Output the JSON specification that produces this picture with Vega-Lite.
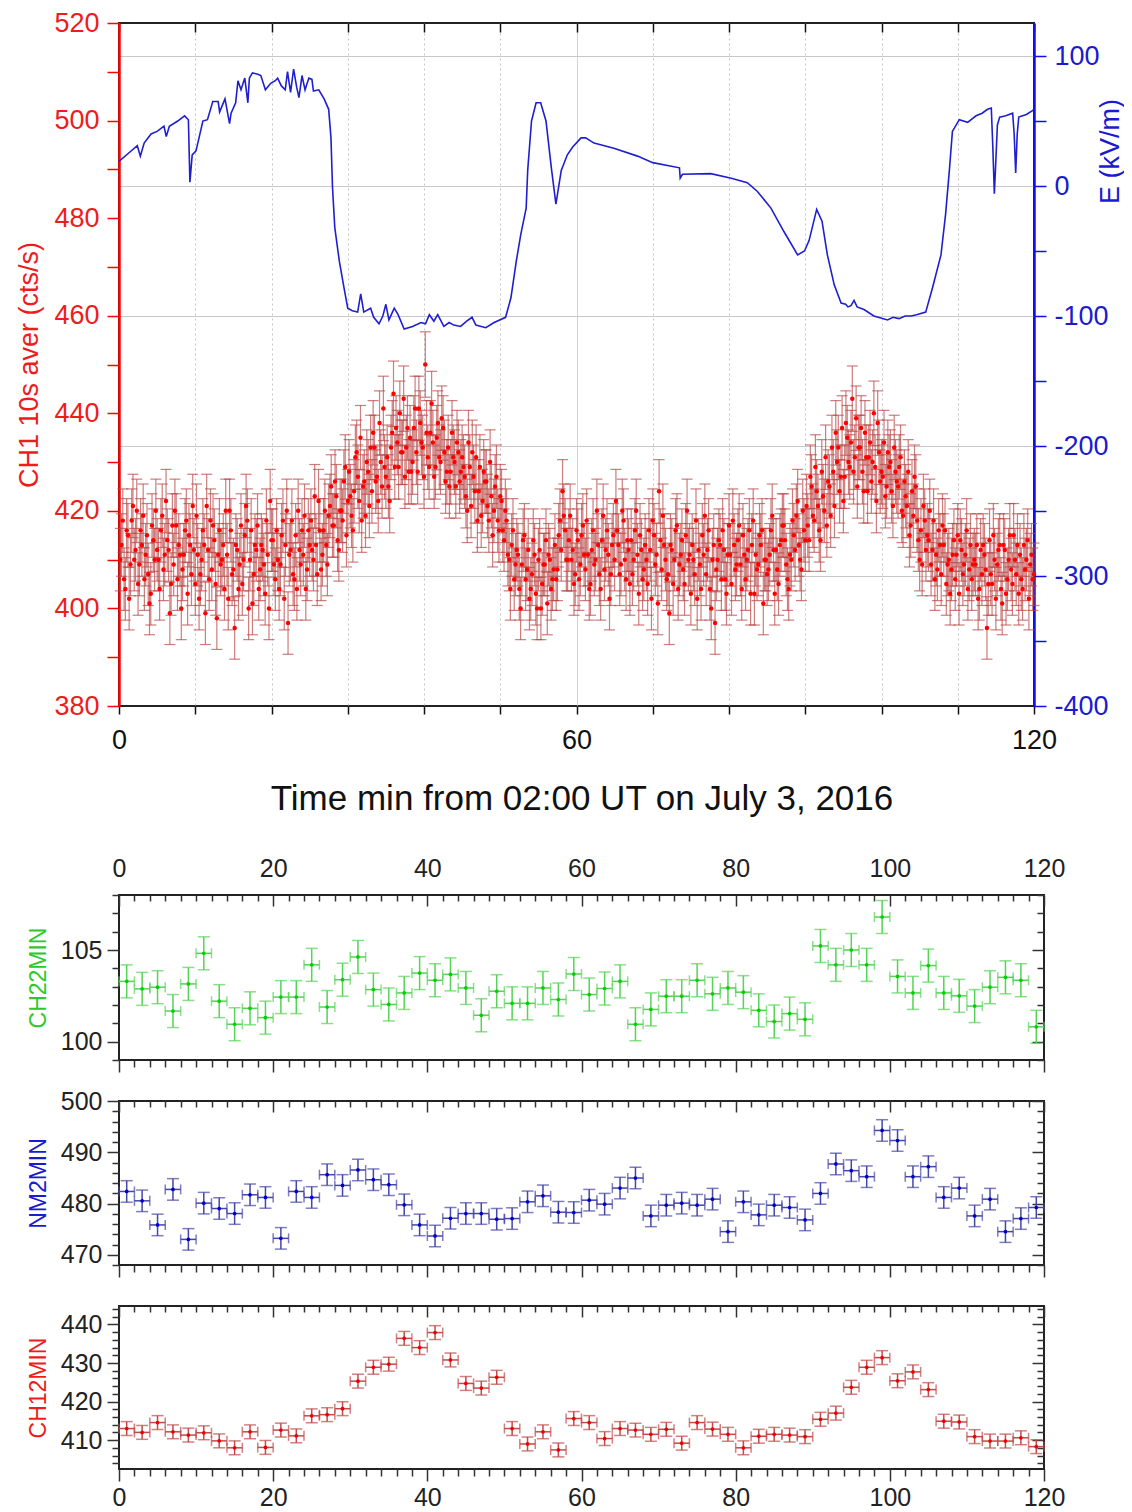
{
  "$schema": "https://vega.github.io/schema/vega-lite/v6.json",
  "background": "white",
  "padding": {"left": 14, "top": 8, "right": 0, "bottom": 0},
  "spacing": 26,
  "config": {
    "font": "Liberation Sans",
    "view": {"stroke": "#222", "strokeWidth": 2},
    "axis": {"labelFont": "Liberation Sans", "titleFont": "Liberation Sans", "titleFontWeight": "normal", "labelFlush": false, "labelOverlap": false, "grid": false, "domain": false}
  },
  "datasets": {
    "ch1": [
      {"t":0.17,"c":410,"e":6.4},{"t":0.5,"c":418,"e":6.5},{"t":0.83,"c":404,"e":6.4},
      {"t":1.17,"c":415,"e":6.5},{"t":1.5,"c":409,"e":6.4},{"t":1.83,"c":421,"e":6.5},
      {"t":2.17,"c":412,"e":6.4},{"t":2.5,"c":405,"e":6.4},{"t":2.83,"c":416,"e":6.5},
      {"t":3.17,"c":419,"e":6.5},{"t":3.5,"c":411,"e":6.4},{"t":3.83,"c":407,"e":6.4},
      {"t":4.17,"c":403,"e":6.4},{"t":4.5,"c":414,"e":6.4},{"t":4.83,"c":420,"e":6.5},
      {"t":5.17,"c":410,"e":6.4},{"t":5.5,"c":416,"e":6.5},{"t":5.83,"c":408,"e":6.4},
      {"t":6.17,"c":422,"e":6.5},{"t":6.5,"c":412,"e":6.4},{"t":6.83,"c":405,"e":6.4},
      {"t":7.17,"c":409,"e":6.4},{"t":7.5,"c":417,"e":6.5},{"t":7.83,"c":413,"e":6.4},
      {"t":8.17,"c":400,"e":6.4},{"t":8.5,"c":411,"e":6.4},{"t":8.83,"c":418,"e":6.5},
      {"t":9.17,"c":415,"e":6.5},{"t":9.5,"c":407,"e":6.4},{"t":9.83,"c":412,"e":6.4},
      {"t":10.17,"c":419,"e":6.5},{"t":10.5,"c":402,"e":6.4},{"t":10.83,"c":410,"e":6.4},
      {"t":11.17,"c":413,"e":6.4},{"t":11.5,"c":421,"e":6.5},{"t":11.83,"c":406,"e":6.4},
      {"t":12.17,"c":408,"e":6.4},{"t":12.5,"c":414,"e":6.4},{"t":12.83,"c":398,"e":6.4},
      {"t":13.17,"c":416,"e":6.5},{"t":13.5,"c":410,"e":6.4},{"t":13.83,"c":404,"e":6.4},
      {"t":14.17,"c":411,"e":6.4},{"t":14.5,"c":420,"e":6.5},{"t":14.83,"c":407,"e":6.4},
      {"t":15.17,"c":396,"e":6.4},{"t":15.5,"c":412,"e":6.4},{"t":15.83,"c":409,"e":6.4},
      {"t":16.17,"c":405,"e":6.4},{"t":16.5,"c":415,"e":6.5},{"t":16.83,"c":418,"e":6.5},
      {"t":17.17,"c":410,"e":6.4},{"t":17.5,"c":401,"e":6.4},{"t":17.83,"c":413,"e":6.4},
      {"t":18.17,"c":417,"e":6.5},{"t":18.5,"c":408,"e":6.4},{"t":18.83,"c":412,"e":6.4},
      {"t":19.17,"c":403,"e":6.4},{"t":19.5,"c":411,"e":6.4},{"t":19.83,"c":422,"e":6.5},
      {"t":20.17,"c":414,"e":6.4},{"t":20.5,"c":406,"e":6.4},{"t":20.83,"c":410,"e":6.4},
      {"t":21.17,"c":409,"e":6.4},{"t":21.5,"c":418,"e":6.5},{"t":21.83,"c":413,"e":6.4},
      {"t":22.17,"c":397,"e":6.4},{"t":22.5,"c":412,"e":6.4},{"t":22.83,"c":407,"e":6.4},
      {"t":23.17,"c":415,"e":6.5},{"t":23.5,"c":420,"e":6.5},{"t":23.83,"c":409,"e":6.4},
      {"t":24.17,"c":411,"e":6.4},{"t":24.5,"c":404,"e":6.4},{"t":24.83,"c":416,"e":6.5},
      {"t":25.17,"c":418,"e":6.5},{"t":25.5,"c":410,"e":6.4},{"t":25.83,"c":413,"e":6.4},
      {"t":26.17,"c":422,"e":6.5},{"t":26.5,"c":408,"e":6.4},{"t":26.83,"c":416,"e":6.5},
      {"t":27.17,"c":413,"e":6.4},{"t":27.5,"c":419,"e":6.5},{"t":27.83,"c":425,"e":6.5},
      {"t":28.17,"c":417,"e":6.5},{"t":28.5,"c":423,"e":6.5},{"t":28.83,"c":412,"e":6.4},
      {"t":29.17,"c":420,"e":6.5},{"t":29.5,"c":426,"e":6.5},{"t":29.83,"c":415,"e":6.5},
      {"t":30.17,"c":428,"e":6.6},{"t":30.5,"c":419,"e":6.5},{"t":30.83,"c":424,"e":6.5},
      {"t":31.17,"c":432,"e":6.6},{"t":31.5,"c":422,"e":6.5},{"t":31.83,"c":418,"e":6.5},
      {"t":32.17,"c":426,"e":6.5},{"t":32.5,"c":430,"e":6.6},{"t":32.83,"c":421,"e":6.5},
      {"t":33.17,"c":424,"e":6.5},{"t":33.5,"c":433,"e":6.6},{"t":33.83,"c":427,"e":6.5},
      {"t":34.17,"c":438,"e":6.6},{"t":34.5,"c":425,"e":6.5},{"t":34.83,"c":429,"e":6.6},
      {"t":35.17,"c":431,"e":6.6},{"t":35.5,"c":422,"e":6.5},{"t":35.83,"c":436,"e":6.6},
      {"t":36.17,"c":429,"e":6.6},{"t":36.5,"c":434,"e":6.6},{"t":36.83,"c":440,"e":6.6},
      {"t":37.17,"c":432,"e":6.6},{"t":37.5,"c":427,"e":6.5},{"t":37.83,"c":437,"e":6.6},
      {"t":38.17,"c":435,"e":6.6},{"t":38.5,"c":430,"e":6.6},{"t":38.83,"c":441,"e":6.6},
      {"t":39.17,"c":428,"e":6.6},{"t":39.5,"c":438,"e":6.6},{"t":39.83,"c":433,"e":6.6},
      {"t":40.17,"c":450,"e":6.7},{"t":40.5,"c":431,"e":6.6},{"t":40.83,"c":436,"e":6.6},
      {"t":41.17,"c":434,"e":6.6},{"t":41.5,"c":429,"e":6.6},{"t":41.83,"c":438,"e":6.6},
      {"t":42.17,"c":430,"e":6.6},{"t":42.5,"c":437,"e":6.6},{"t":42.83,"c":426,"e":6.5},
      {"t":43.17,"c":433,"e":6.6},{"t":43.5,"c":428,"e":6.6},{"t":43.83,"c":431,"e":6.6},
      {"t":44.17,"c":425,"e":6.5},{"t":44.5,"c":432,"e":6.6},{"t":44.83,"c":428,"e":6.6},
      {"t":45.17,"c":429,"e":6.6},{"t":45.5,"c":423,"e":6.5},{"t":45.83,"c":434,"e":6.6},
      {"t":46.17,"c":421,"e":6.5},{"t":46.5,"c":427,"e":6.5},{"t":46.83,"c":431,"e":6.6},
      {"t":47.17,"c":424,"e":6.5},{"t":47.5,"c":419,"e":6.5},{"t":47.83,"c":428,"e":6.6},
      {"t":48.17,"c":426,"e":6.5},{"t":48.5,"c":418,"e":6.5},{"t":48.83,"c":423,"e":6.5},
      {"t":49.17,"c":420,"e":6.5},{"t":49.5,"c":427,"e":6.5},{"t":49.83,"c":416,"e":6.5},
      {"t":50.17,"c":422,"e":6.5},{"t":50.5,"c":414,"e":6.4},{"t":50.83,"c":418,"e":6.5},
      {"t":51.17,"c":410,"e":6.4},{"t":51.5,"c":413,"e":6.4},{"t":51.83,"c":406,"e":6.4},
      {"t":52.17,"c":412,"e":6.4},{"t":52.5,"c":404,"e":6.4},{"t":52.83,"c":409,"e":6.4},
      {"t":53.17,"c":415,"e":6.5},{"t":53.5,"c":408,"e":6.4},{"t":53.83,"c":402,"e":6.4},
      {"t":54.17,"c":407,"e":6.4},{"t":54.5,"c":411,"e":6.4},{"t":54.83,"c":400,"e":6.4},
      {"t":55.17,"c":412,"e":6.4},{"t":55.5,"c":405,"e":6.4},{"t":55.83,"c":409,"e":6.4},
      {"t":56.17,"c":401,"e":6.4},{"t":56.5,"c":410,"e":6.4},{"t":56.83,"c":406,"e":6.4},
      {"t":57.17,"c":413,"e":6.4},{"t":57.5,"c":408,"e":6.4},{"t":57.83,"c":418,"e":6.5},
      {"t":58.17,"c":424,"e":6.5},{"t":58.5,"c":416,"e":6.5},{"t":58.83,"c":410,"e":6.4},
      {"t":59.17,"c":419,"e":6.5},{"t":59.5,"c":412,"e":6.4},{"t":59.83,"c":407,"e":6.4},
      {"t":60.17,"c":414,"e":6.4},{"t":60.5,"c":409,"e":6.4},{"t":60.83,"c":417,"e":6.5},
      {"t":61.17,"c":408,"e":6.4},{"t":61.5,"c":411,"e":6.4},{"t":61.83,"c":405,"e":6.4},
      {"t":62.17,"c":416,"e":6.5},{"t":62.5,"c":410,"e":6.4},{"t":62.83,"c":413,"e":6.4},
      {"t":63.17,"c":404,"e":6.4},{"t":63.5,"c":419,"e":6.5},{"t":63.83,"c":412,"e":6.4},
      {"t":64.17,"c":411,"e":6.4},{"t":64.5,"c":407,"e":6.4},{"t":64.83,"c":415,"e":6.5},
      {"t":65.17,"c":422,"e":6.5},{"t":65.5,"c":413,"e":6.4},{"t":65.83,"c":409,"e":6.4},
      {"t":66.17,"c":418,"e":6.5},{"t":66.5,"c":406,"e":6.4},{"t":66.83,"c":412,"e":6.4},
      {"t":67.17,"c":414,"e":6.4},{"t":67.5,"c":410,"e":6.4},{"t":67.83,"c":420,"e":6.5},
      {"t":68.17,"c":403,"e":6.4},{"t":68.5,"c":412,"e":6.4},{"t":68.83,"c":408,"e":6.4},
      {"t":69.17,"c":410,"e":6.4},{"t":69.5,"c":416,"e":6.5},{"t":69.83,"c":402,"e":6.4},
      {"t":70.17,"c":415,"e":6.5},{"t":70.5,"c":411,"e":6.4},{"t":70.83,"c":424,"e":6.5},
      {"t":71.17,"c":408,"e":6.4},{"t":71.5,"c":413,"e":6.4},{"t":71.83,"c":406,"e":6.4},
      {"t":72.17,"c":399,"e":6.4},{"t":72.5,"c":412,"e":6.4},{"t":72.83,"c":410,"e":6.4},
      {"t":73.17,"c":417,"e":6.5},{"t":73.5,"c":409,"e":6.4},{"t":73.83,"c":414,"e":6.4},
      {"t":74.17,"c":405,"e":6.4},{"t":74.5,"c":420,"e":6.5},{"t":74.83,"c":411,"e":6.4},
      {"t":75.17,"c":413,"e":6.4},{"t":75.5,"c":407,"e":6.4},{"t":75.83,"c":402,"e":6.4},
      {"t":76.17,"c":409,"e":6.4},{"t":76.5,"c":415,"e":6.5},{"t":76.83,"c":419,"e":6.5},
      {"t":77.17,"c":412,"e":6.4},{"t":77.5,"c":404,"e":6.4},{"t":77.83,"c":410,"e":6.4},
      {"t":78.17,"c":397,"e":6.4},{"t":78.5,"c":410,"e":6.4},{"t":78.83,"c":413,"e":6.4},
      {"t":79.17,"c":416,"e":6.5},{"t":79.5,"c":406,"e":6.4},{"t":79.83,"c":411,"e":6.4},
      {"t":80.17,"c":411,"e":6.4},{"t":80.5,"c":418,"e":6.5},{"t":80.83,"c":408,"e":6.4},
      {"t":81.17,"c":414,"e":6.4},{"t":81.5,"c":409,"e":6.4},{"t":81.83,"c":415,"e":6.5},
      {"t":82.17,"c":406,"e":6.4},{"t":82.5,"c":412,"e":6.4},{"t":82.83,"c":403,"e":6.4},
      {"t":83.17,"c":418,"e":6.5},{"t":83.5,"c":411,"e":6.4},{"t":83.83,"c":409,"e":6.4},
      {"t":84.17,"c":413,"e":6.4},{"t":84.5,"c":401,"e":6.4},{"t":84.83,"c":410,"e":6.4},
      {"t":85.17,"c":408,"e":6.4},{"t":85.5,"c":416,"e":6.5},{"t":85.83,"c":412,"e":6.4},
      {"t":86.17,"c":412,"e":6.4},{"t":86.5,"c":405,"e":6.4},{"t":86.83,"c":414,"e":6.4},
      {"t":87.17,"c":417,"e":6.5},{"t":87.5,"c":409,"e":6.4},{"t":87.83,"c":404,"e":6.4},
      {"t":88.17,"c":410,"e":6.4},{"t":88.5,"c":415,"e":6.5},{"t":88.83,"c":419,"e":6.5},
      {"t":89.17,"c":413,"e":6.4},{"t":89.5,"c":408,"e":6.4},{"t":89.83,"c":416,"e":6.5},
      {"t":90.17,"c":421,"e":6.5},{"t":90.5,"c":414,"e":6.4},{"t":90.83,"c":425,"e":6.5},
      {"t":91.17,"c":418,"e":6.5},{"t":91.5,"c":424,"e":6.5},{"t":91.83,"c":416,"e":6.5},
      {"t":92.17,"c":428,"e":6.6},{"t":92.5,"c":420,"e":6.5},{"t":92.83,"c":417,"e":6.5},
      {"t":93.17,"c":425,"e":6.5},{"t":93.5,"c":433,"e":6.6},{"t":93.83,"c":421,"e":6.5},
      {"t":94.17,"c":430,"e":6.6},{"t":94.5,"c":424,"e":6.5},{"t":94.83,"c":437,"e":6.6},
      {"t":95.17,"c":427,"e":6.5},{"t":95.5,"c":435,"e":6.6},{"t":95.83,"c":429,"e":6.6},
      {"t":96.17,"c":443,"e":6.7},{"t":96.5,"c":431,"e":6.6},{"t":96.83,"c":425,"e":6.5},
      {"t":97.17,"c":433,"e":6.6},{"t":97.5,"c":428,"e":6.6},{"t":97.83,"c":436,"e":6.6},
      {"t":98.17,"c":424,"e":6.5},{"t":98.5,"c":434,"e":6.6},{"t":98.83,"c":430,"e":6.6},
      {"t":99.17,"c":429,"e":6.6},{"t":99.5,"c":438,"e":6.6},{"t":99.83,"c":426,"e":6.5},
      {"t":100.17,"c":427,"e":6.5},{"t":100.5,"c":423,"e":6.5},{"t":100.83,"c":432,"e":6.6},
      {"t":101.17,"c":430,"e":6.6},{"t":101.5,"c":421,"e":6.5},{"t":101.83,"c":428,"e":6.6},
      {"t":102.17,"c":425,"e":6.5},{"t":102.5,"c":431,"e":6.6},{"t":102.83,"c":419,"e":6.5},
      {"t":103.17,"c":423,"e":6.5},{"t":103.5,"c":428,"e":6.6},{"t":103.83,"c":417,"e":6.5},
      {"t":104.17,"c":419,"e":6.5},{"t":104.5,"c":425,"e":6.5},{"t":104.83,"c":414,"e":6.4},
      {"t":105.17,"c":416,"e":6.5},{"t":105.5,"c":421,"e":6.5},{"t":105.83,"c":412,"e":6.4},
      {"t":106.17,"c":414,"e":6.4},{"t":106.5,"c":409,"e":6.4},{"t":106.83,"c":418,"e":6.5},
      {"t":107.17,"c":411,"e":6.4},{"t":107.5,"c":416,"e":6.5},{"t":107.83,"c":407,"e":6.4},
      {"t":108.17,"c":413,"e":6.4},{"t":108.5,"c":405,"e":6.4},{"t":108.83,"c":410,"e":6.4},
      {"t":109.17,"c":408,"e":6.4},{"t":109.5,"c":414,"e":6.4},{"t":109.83,"c":411,"e":6.4},
      {"t":110.17,"c":403,"e":6.4},{"t":110.5,"c":412,"e":6.4},{"t":110.83,"c":409,"e":6.4},
      {"t":111.17,"c":416,"e":6.5},{"t":111.5,"c":408,"e":6.4},{"t":111.83,"c":406,"e":6.4},
      {"t":112.17,"c":410,"e":6.4},{"t":112.5,"c":413,"e":6.4},{"t":112.83,"c":404,"e":6.4},
      {"t":113.17,"c":407,"e":6.4},{"t":113.5,"c":411,"e":6.4},{"t":113.83,"c":396,"e":6.4},
      {"t":114.17,"c":414,"e":6.4},{"t":114.5,"c":405,"e":6.4},{"t":114.83,"c":410,"e":6.4},
      {"t":115.17,"c":409,"e":6.4},{"t":115.5,"c":413,"e":6.4},{"t":115.83,"c":401,"e":6.4},
      {"t":116.17,"c":412,"e":6.4},{"t":116.5,"c":406,"e":6.4},{"t":116.83,"c":415,"e":6.5},
      {"t":117.17,"c":405,"e":6.4},{"t":117.5,"c":410,"e":6.4},{"t":117.83,"c":413,"e":6.4},
      {"t":118.17,"c":411,"e":6.4},{"t":118.5,"c":404,"e":6.4},{"t":118.83,"c":408,"e":6.4},
      {"t":119.17,"c":414,"e":6.4},{"t":119.5,"c":409,"e":6.4},{"t":119.83,"c":406,"e":6.4},
      {"t":0.33,"c":413,"e":6.4},{"t":0.67,"c":406,"e":6.4},{"t":1.0,"c":416,"e":6.5},
      {"t":1.33,"c":402,"e":6.4},{"t":1.67,"c":418,"e":6.5},{"t":2.0,"c":410,"e":6.4},
      {"t":2.33,"c":420,"e":6.5},{"t":2.67,"c":409,"e":6.4},{"t":3.0,"c":413,"e":6.4},
      {"t":3.33,"c":406,"e":6.4},{"t":3.67,"c":415,"e":6.5},{"t":4.0,"c":401,"e":6.4},
      {"t":4.33,"c":417,"e":6.5},{"t":4.67,"c":410,"e":6.4},{"t":5.0,"c":412,"e":6.4},
      {"t":5.33,"c":404,"e":6.4},{"t":5.67,"c":419,"e":6.5},{"t":6.0,"c":411,"e":6.4},
      {"t":6.33,"c":414,"e":6.4},{"t":6.67,"c":399,"e":6.4},{"t":7.0,"c":417,"e":6.5},
      {"t":7.33,"c":420,"e":6.5},{"t":7.67,"c":406,"e":6.4},{"t":8.0,"c":411,"e":6.4},
      {"t":8.33,"c":408,"e":6.4},{"t":8.67,"c":416,"e":6.5},{"t":9.0,"c":403,"e":6.4},
      {"t":9.33,"c":413,"e":6.4},{"t":9.67,"c":421,"e":6.5},{"t":10.0,"c":405,"e":6.4},
      {"t":10.33,"c":411,"e":6.4},{"t":10.67,"c":407,"e":6.4},{"t":11.0,"c":416,"e":6.5},
      {"t":11.33,"c":399,"e":6.4},{"t":11.67,"c":412,"e":6.4},{"t":12.0,"c":418,"e":6.5},
      {"t":12.33,"c":417,"e":6.5},{"t":12.67,"c":405,"e":6.4},{"t":13.0,"c":411,"e":6.4},
      {"t":13.33,"c":409,"e":6.4},{"t":13.67,"c":413,"e":6.4},{"t":14.0,"c":420,"e":6.5},
      {"t":14.33,"c":402,"e":6.4},{"t":14.67,"c":416,"e":6.5},{"t":15.0,"c":408,"e":6.4},
      {"t":15.33,"c":413,"e":6.4},{"t":15.67,"c":404,"e":6.4},{"t":16.0,"c":417,"e":6.5},
      {"t":16.33,"c":410,"e":6.4},{"t":16.67,"c":421,"e":6.5},{"t":17.0,"c":400,"e":6.4},
      {"t":17.33,"c":416,"e":6.5},{"t":17.67,"c":407,"e":6.4},{"t":18.0,"c":412,"e":6.4},
      {"t":18.33,"c":404,"e":6.4},{"t":18.67,"c":413,"e":6.4},{"t":19.0,"c":409,"e":6.4},
      {"t":19.33,"c":418,"e":6.5},{"t":19.67,"c":400,"e":6.4},{"t":20.0,"c":414,"e":6.4},
      {"t":20.33,"c":409,"e":6.4},{"t":20.67,"c":416,"e":6.5},{"t":21.0,"c":404,"e":6.4},
      {"t":21.33,"c":415,"e":6.5},{"t":21.67,"c":402,"e":6.4},{"t":22.0,"c":420,"e":6.5},
      {"t":22.33,"c":411,"e":6.4},{"t":22.67,"c":418,"e":6.5},{"t":23.0,"c":406,"e":6.4},
      {"t":23.33,"c":404,"e":6.4},{"t":23.67,"c":412,"e":6.4},{"t":24.0,"c":416,"e":6.5},
      {"t":24.33,"c":419,"e":6.5},{"t":24.67,"c":408,"e":6.4},{"t":25.0,"c":413,"e":6.4},
      {"t":25.33,"c":412,"e":6.4},{"t":25.67,"c":423,"e":6.5},{"t":26.0,"c":407,"e":6.4},
      {"t":26.33,"c":416,"e":6.5},{"t":26.67,"c":411,"e":6.4},{"t":27.0,"c":420,"e":6.5},
      {"t":27.33,"c":409,"e":6.4},{"t":27.67,"c":421,"e":6.5},{"t":28.0,"c":417,"e":6.5},
      {"t":28.33,"c":426,"e":6.5},{"t":28.67,"c":414,"e":6.4},{"t":29.0,"c":420,"e":6.5},
      {"t":29.33,"c":418,"e":6.5},{"t":29.67,"c":429,"e":6.6},{"t":30.0,"c":422,"e":6.5},
      {"t":30.33,"c":423,"e":6.5},{"t":30.67,"c":416,"e":6.5},{"t":31.0,"c":431,"e":6.6},
      {"t":31.33,"c":427,"e":6.5},{"t":31.67,"c":435,"e":6.6},{"t":32.0,"c":425,"e":6.5},
      {"t":32.33,"c":419,"e":6.5},{"t":32.67,"c":428,"e":6.6},{"t":33.0,"c":433,"e":6.6},
      {"t":33.33,"c":436,"e":6.6},{"t":33.67,"c":426,"e":6.5},{"t":34.0,"c":422,"e":6.5},
      {"t":34.33,"c":430,"e":6.6},{"t":34.67,"c":441,"e":6.6},{"t":35.0,"c":427,"e":6.5},
      {"t":35.33,"c":425,"e":6.5},{"t":35.67,"c":433,"e":6.6},{"t":36.0,"c":444,"e":6.7},
      {"t":36.33,"c":437,"e":6.6},{"t":36.67,"c":429,"e":6.6},{"t":37.0,"c":432,"e":6.6},
      {"t":37.33,"c":443,"e":6.7},{"t":37.67,"c":433,"e":6.6},{"t":38.0,"c":428,"e":6.6},
      {"t":38.33,"c":428,"e":6.6},{"t":38.67,"c":437,"e":6.6},{"t":39.0,"c":432,"e":6.6},
      {"t":39.33,"c":441,"e":6.6},{"t":39.67,"c":434,"e":6.6},{"t":40.0,"c":427,"e":6.5},
      {"t":40.33,"c":436,"e":6.6},{"t":40.67,"c":429,"e":6.6},{"t":41.0,"c":442,"e":6.6},
      {"t":41.33,"c":427,"e":6.5},{"t":41.67,"c":435,"e":6.6},{"t":42.0,"c":431,"e":6.6},
      {"t":42.33,"c":439,"e":6.6},{"t":42.67,"c":432,"e":6.6},{"t":43.0,"c":428,"e":6.6},
      {"t":43.33,"c":425,"e":6.5},{"t":43.67,"c":436,"e":6.6},{"t":44.0,"c":430,"e":6.6},
      {"t":44.33,"c":434,"e":6.6},{"t":44.67,"c":426,"e":6.5},{"t":45.0,"c":431,"e":6.6},
      {"t":45.33,"c":427,"e":6.5},{"t":45.67,"c":420,"e":6.5},{"t":46.0,"c":429,"e":6.6},
      {"t":46.33,"c":432,"e":6.6},{"t":46.67,"c":424,"e":6.5},{"t":47.0,"c":418,"e":6.5},
      {"t":47.33,"c":429,"e":6.6},{"t":47.67,"c":422,"e":6.5},{"t":48.0,"c":426,"e":6.5},
      {"t":48.33,"c":421,"e":6.5},{"t":48.67,"c":430,"e":6.6},{"t":49.0,"c":415,"e":6.5},
      {"t":49.33,"c":425,"e":6.5},{"t":49.67,"c":418,"e":6.5},{"t":50.0,"c":423,"e":6.5},
      {"t":50.33,"c":416,"e":6.5},{"t":50.67,"c":420,"e":6.5},{"t":51.0,"c":411,"e":6.4},
      {"t":51.33,"c":404,"e":6.4},{"t":51.67,"c":416,"e":6.5},{"t":52.0,"c":409,"e":6.4},
      {"t":52.33,"c":411,"e":6.4},{"t":52.67,"c":400,"e":6.4},{"t":53.0,"c":414,"e":6.4},
      {"t":53.33,"c":406,"e":6.4},{"t":53.67,"c":412,"e":6.4},{"t":54.0,"c":404,"e":6.4},
      {"t":54.33,"c":414,"e":6.4},{"t":54.67,"c":403,"e":6.4},{"t":55.0,"c":410,"e":6.4},
      {"t":55.33,"c":400,"e":6.4},{"t":55.67,"c":409,"e":6.4},{"t":56.0,"c":414,"e":6.4},
      {"t":56.33,"c":411,"e":6.4},{"t":56.67,"c":404,"e":6.4},{"t":57.0,"c":408,"e":6.4},
      {"t":57.33,"c":406,"e":6.4},{"t":57.67,"c":415,"e":6.5},{"t":58.0,"c":412,"e":6.4},
      {"t":58.33,"c":419,"e":6.5},{"t":58.67,"c":410,"e":6.4},{"t":59.0,"c":414,"e":6.4},
      {"t":59.33,"c":410,"e":6.4},{"t":59.67,"c":405,"e":6.4},{"t":60.0,"c":416,"e":6.5},
      {"t":60.33,"c":406,"e":6.4},{"t":60.67,"c":415,"e":6.5},{"t":61.0,"c":411,"e":6.4},
      {"t":61.33,"c":418,"e":6.5},{"t":61.67,"c":404,"e":6.4},{"t":62.0,"c":412,"e":6.4},
      {"t":62.33,"c":409,"e":6.4},{"t":62.67,"c":420,"e":6.5},{"t":63.0,"c":407,"e":6.4},
      {"t":63.33,"c":414,"e":6.4},{"t":63.67,"c":408,"e":6.4},{"t":64.0,"c":416,"e":6.5},
      {"t":64.33,"c":402,"e":6.4},{"t":64.67,"c":413,"e":6.4},{"t":65.0,"c":410,"e":6.4},
      {"t":65.33,"c":416,"e":6.5},{"t":65.67,"c":407,"e":6.4},{"t":66.0,"c":420,"e":6.5},
      {"t":66.33,"c":410,"e":6.4},{"t":66.67,"c":414,"e":6.4},{"t":67.0,"c":405,"e":6.4},
      {"t":67.33,"c":407,"e":6.4},{"t":67.67,"c":416,"e":6.5},{"t":68.0,"c":411,"e":6.4},
      {"t":68.33,"c":415,"e":6.5},{"t":68.67,"c":406,"e":6.4},{"t":69.0,"c":413,"e":6.4},
      {"t":69.33,"c":405,"e":6.4},{"t":69.67,"c":412,"e":6.4},{"t":70.0,"c":418,"e":6.5},
      {"t":70.33,"c":409,"e":6.4},{"t":70.67,"c":401,"e":6.4},{"t":71.0,"c":414,"e":6.4},
      {"t":71.33,"c":419,"e":6.5},{"t":71.67,"c":410,"e":6.4},{"t":72.0,"c":407,"e":6.4},
      {"t":72.33,"c":413,"e":6.4},{"t":72.67,"c":405,"e":6.4},{"t":73.0,"c":416,"e":6.5},
      {"t":73.33,"c":404,"e":6.4},{"t":73.67,"c":411,"e":6.4},{"t":74.0,"c":408,"e":6.4},
      {"t":74.33,"c":415,"e":6.5},{"t":74.67,"c":410,"e":6.4},{"t":75.0,"c":403,"e":6.4},
      {"t":75.33,"c":410,"e":6.4},{"t":75.67,"c":418,"e":6.5},{"t":76.0,"c":412,"e":6.4},
      {"t":76.33,"c":404,"e":6.4},{"t":76.67,"c":411,"e":6.4},{"t":77.0,"c":407,"e":6.4},
      {"t":77.33,"c":416,"e":6.5},{"t":77.67,"c":400,"e":6.4},{"t":78.0,"c":413,"e":6.4},
      {"t":78.33,"c":408,"e":6.4},{"t":78.67,"c":414,"e":6.4},{"t":79.0,"c":406,"e":6.4},
      {"t":79.33,"c":412,"e":6.4},{"t":79.67,"c":403,"e":6.4},{"t":80.0,"c":417,"e":6.5},
      {"t":80.33,"c":405,"e":6.4},{"t":80.67,"c":413,"e":6.4},{"t":81.0,"c":409,"e":6.4},
      {"t":81.33,"c":417,"e":6.5},{"t":81.67,"c":404,"e":6.4},{"t":82.0,"c":411,"e":6.4},
      {"t":82.33,"c":410,"e":6.4},{"t":82.67,"c":416,"e":6.5},{"t":83.0,"c":413,"e":6.4},
      {"t":83.33,"c":403,"e":6.4},{"t":83.67,"c":408,"e":6.4},{"t":84.0,"c":415,"e":6.5},
      {"t":84.33,"c":416,"e":6.5},{"t":84.67,"c":410,"e":6.4},{"t":85.0,"c":407,"e":6.4},
      {"t":85.33,"c":411,"e":6.4},{"t":85.67,"c":419,"e":6.5},{"t":86.0,"c":403,"e":6.4},
      {"t":86.33,"c":408,"e":6.4},{"t":86.67,"c":413,"e":6.4},{"t":87.0,"c":417,"e":6.5},
      {"t":87.33,"c":414,"e":6.4},{"t":87.67,"c":406,"e":6.4},{"t":88.0,"c":411,"e":6.4},
      {"t":88.33,"c":418,"e":6.5},{"t":88.67,"c":412,"e":6.4},{"t":89.0,"c":422,"e":6.5},
      {"t":89.33,"c":410,"e":6.4},{"t":89.67,"c":420,"e":6.5},{"t":90.0,"c":414,"e":6.4},
      {"t":90.33,"c":417,"e":6.5},{"t":90.67,"c":427,"e":6.5},{"t":91.0,"c":419,"e":6.5},
      {"t":91.33,"c":429,"e":6.6},{"t":91.67,"c":421,"e":6.5},{"t":92.0,"c":414,"e":6.4},
      {"t":92.33,"c":423,"e":6.5},{"t":92.67,"c":431,"e":6.6},{"t":93.0,"c":426,"e":6.5},
      {"t":93.33,"c":419,"e":6.5},{"t":93.67,"c":428,"e":6.6},{"t":94.0,"c":436,"e":6.6},
      {"t":94.33,"c":433,"e":6.6},{"t":94.67,"c":427,"e":6.5},{"t":95.0,"c":422,"e":6.5},
      {"t":95.33,"c":438,"e":6.6},{"t":95.67,"c":430,"e":6.6},{"t":96.0,"c":434,"e":6.6},
      {"t":96.33,"c":428,"e":6.6},{"t":96.67,"c":439,"e":6.6},{"t":97.0,"c":433,"e":6.6},
      {"t":97.33,"c":437,"e":6.6},{"t":97.67,"c":424,"e":6.5},{"t":98.0,"c":431,"e":6.6},
      {"t":98.33,"c":431,"e":6.6},{"t":98.67,"c":426,"e":6.5},{"t":99.0,"c":440,"e":6.6},
      {"t":99.33,"c":422,"e":6.5},{"t":99.67,"c":432,"e":6.6},{"t":100.0,"c":428,"e":6.6},
      {"t":100.33,"c":434,"e":6.6},{"t":100.67,"c":425,"e":6.5},{"t":101.0,"c":429,"e":6.6},
      {"t":101.33,"c":424,"e":6.5},{"t":101.67,"c":433,"e":6.6},{"t":102.0,"c":426,"e":6.5},
      {"t":102.33,"c":429,"e":6.6},{"t":102.67,"c":420,"e":6.5},{"t":103.0,"c":426,"e":6.5},
      {"t":103.33,"c":421,"e":6.5},{"t":103.67,"c":415,"e":6.5},{"t":104.0,"c":424,"e":6.5},
      {"t":104.33,"c":427,"e":6.5},{"t":104.67,"c":418,"e":6.5},{"t":105.0,"c":410,"e":6.4},
      {"t":105.33,"c":409,"e":6.4},{"t":105.67,"c":418,"e":6.5},{"t":106.0,"c":415,"e":6.5},
      {"t":106.33,"c":420,"e":6.5},{"t":106.67,"c":412,"e":6.4},{"t":107.0,"c":406,"e":6.4},
      {"t":107.33,"c":408,"e":6.4},{"t":107.67,"c":413,"e":6.4},{"t":108.0,"c":417,"e":6.5},
      {"t":108.33,"c":416,"e":6.5},{"t":108.67,"c":409,"e":6.4},{"t":109.0,"c":403,"e":6.4},
      {"t":109.33,"c":411,"e":6.4},{"t":109.67,"c":406,"e":6.4},{"t":110.0,"c":415,"e":6.5},
      {"t":110.33,"c":414,"e":6.4},{"t":110.67,"c":407,"e":6.4},{"t":111.0,"c":411,"e":6.4},
      {"t":111.33,"c":404,"e":6.4},{"t":111.67,"c":413,"e":6.4},{"t":112.0,"c":409,"e":6.4},
      {"t":112.33,"c":409,"e":6.4},{"t":112.67,"c":402,"e":6.4},{"t":113.0,"c":412,"e":6.4},
      {"t":113.33,"c":413,"e":6.4},{"t":113.67,"c":408,"e":6.4},{"t":114.0,"c":405,"e":6.4},
      {"t":114.33,"c":407,"e":6.4},{"t":114.67,"c":415,"e":6.5},{"t":115.0,"c":402,"e":6.4},
      {"t":115.33,"c":412,"e":6.4},{"t":115.67,"c":404,"e":6.4},{"t":116.0,"c":413,"e":6.4},
      {"t":116.33,"c":403,"e":6.4},{"t":116.67,"c":410,"e":6.4},{"t":117.0,"c":408,"e":6.4},
      {"t":117.33,"c":415,"e":6.5},{"t":117.67,"c":407,"e":6.4},{"t":118.0,"c":403,"e":6.4},
      {"t":118.33,"c":406,"e":6.4},{"t":118.67,"c":413,"e":6.4},{"t":119.0,"c":410,"e":6.4},
      {"t":119.33,"c":402,"e":6.4},{"t":119.67,"c":411,"e":6.4},{"t":120.0,"c":407,"e":6.4}
    ],
    "ef": [
      {"t":0,"E":19},{"t":1.2,"E":25},{"t":2.4,"E":31},{"t":2.8,"E":23},{"t":3.3,"E":33},{"t":4.2,"E":40},{"t":5,"E":42},{"t":5.9,"E":46},{"t":6.2,"E":38},{"t":6.6,"E":46},
      {"t":7.7,"E":50},{"t":8.6,"E":54},{"t":9.1,"E":51},{"t":9.3,"E":3},{"t":9.6,"E":24},{"t":10.1,"E":27},{"t":11,"E":50},{"t":11.6,"E":51},{"t":12.3,"E":65},{"t":13,"E":65},
      {"t":13.2,"E":57},{"t":13.9,"E":67},{"t":14.5,"E":48},{"t":14.7,"E":56},{"t":15.3,"E":64},{"t":15.6,"E":81},{"t":16,"E":74},{"t":16.5,"E":83},{"t":16.9,"E":64},{"t":17.1,"E":83},
      {"t":17.5,"E":87},{"t":18.2,"E":86},{"t":18.6,"E":85},{"t":19.2,"E":74},{"t":19.9,"E":79},{"t":20.5,"E":81},{"t":20.8,"E":83},{"t":21.3,"E":77},{"t":21.8,"E":74},{"t":22.1,"E":88},
      {"t":22.5,"E":72},{"t":22.9,"E":90},{"t":23.3,"E":76},{"t":23.6,"E":68},{"t":24,"E":85},{"t":24.4,"E":74},{"t":24.9,"E":83},{"t":25.3,"E":82},{"t":25.5,"E":73},{"t":26.2,"E":74},
      {"t":26.9,"E":67},{"t":27.5,"E":59},{"t":27.8,"E":37},{"t":28,"E":-1},{"t":28.3,"E":-32},{"t":28.9,"E":-58},{"t":29.5,"E":-78},{"t":30,"E":-94},{"t":30.6,"E":-96},{"t":31.3,"E":-97},
      {"t":31.7,"E":-83},{"t":32.1,"E":-97},{"t":33,"E":-94},{"t":33.4,"E":-101},{"t":34.1,"E":-106},{"t":34.6,"E":-100},{"t":35,"E":-91},{"t":35.4,"E":-103},{"t":36.1,"E":-94},{"t":36.6,"E":-99},
      {"t":37.4,"E":-110},{"t":38.5,"E":-108},{"t":39.6,"E":-105},{"t":40.2,"E":-106},{"t":40.7,"E":-99},{"t":41.3,"E":-104},{"t":41.8,"E":-99},{"t":42.6,"E":-108},{"t":43.3,"E":-105},{"t":43.9,"E":-107},
      {"t":44.8,"E":-108},{"t":45.6,"E":-104},{"t":46.3,"E":-101},{"t":46.8,"E":-107},{"t":48.1,"E":-109},{"t":49.2,"E":-105},{"t":50.7,"E":-101},{"t":51.4,"E":-86},{"t":52.1,"E":-58},{"t":52.7,"E":-37},
      {"t":53.4,"E":-17},{"t":53.6,"E":12},{"t":54.1,"E":50},{"t":54.7,"E":64},{"t":55.3,"E":64},{"t":56,"E":50},{"t":56.7,"E":14},{"t":57.3,"E":-14},{"t":58,"E":12},{"t":58.8,"E":24},
      {"t":59.5,"E":30},{"t":60.6,"E":37},{"t":61.2,"E":37},{"t":62.3,"E":33},{"t":64.9,"E":29},{"t":68,"E":23},{"t":70,"E":18},{"t":73.5,"E":14},{"t":73.6,"E":6},{"t":73.9,"E":9},
      {"t":77.6,"E":9.5},{"t":80.3,"E":6},{"t":82.4,"E":2.6},{"t":83.7,"E":-4},{"t":85.5,"E":-17},{"t":87.2,"E":-35},{"t":89,"E":-53},{"t":89.9,"E":-50},{"t":90.5,"E":-42},{"t":91.5,"E":-18},
      {"t":92.2,"E":-27},{"t":92.9,"E":-53},{"t":93.8,"E":-76},{"t":94.7,"E":-90},{"t":95.3,"E":-91},{"t":95.6,"E":-93},{"t":96,"E":-92},{"t":96.4,"E":-88},{"t":96.8,"E":-93},{"t":97.7,"E":-95},
      {"t":99,"E":-100},{"t":100.8,"E":-103},{"t":101.5,"E":-101},{"t":102.3,"E":-102},{"t":103.1,"E":-100},{"t":103.9,"E":-100},{"t":104.6,"E":-99},{"t":105.8,"E":-97},{"t":106.7,"E":-78},{"t":107.8,"E":-53},
      {"t":108.4,"E":-22},{"t":108.9,"E":12},{"t":109.3,"E":42},{"t":110.2,"E":51},{"t":111.3,"E":49},{"t":112.4,"E":54},{"t":113.2,"E":56},{"t":113.9,"E":59},{"t":114.4,"E":60},{"t":114.6,"E":30},
      {"t":114.8,"E":-6},{"t":115,"E":20},{"t":115.2,"E":47},{"t":115.5,"E":53},{"t":116.3,"E":54},{"t":117.2,"E":56},{"t":117.4,"E":40},{"t":117.6,"E":10},{"t":117.8,"E":40},{"t":118,"E":53},
      {"t":119,"E":55},{"t":119.8,"E":58},{"t":120,"E":59}
    ],
    "b": [
      {"t":1,"g":103.29,"n":482.35,"r":413.0,"et":1,"ge":0.9,"ne":2.1,"re":1.8},
      {"t":3,"g":102.88,"n":480.52,"r":412.0,"et":1,"ge":0.9,"ne":2.1,"re":1.8},
      {"t":5,"g":102.97,"n":475.82,"r":414.55,"et":1,"ge":0.9,"ne":2.1,"re":1.8},
      {"t":7,"g":101.67,"n":482.75,"r":412.15,"et":1,"ge":0.9,"ne":2.1,"re":1.8},
      {"t":9,"g":103.15,"n":473.0,"r":411.3,"et":1,"ge":0.9,"ne":2.1,"re":1.8},
      {"t":11,"g":104.82,"n":480.07,"r":411.9,"et":1,"ge":0.9,"ne":2.1,"re":1.8},
      {"t":13,"g":102.21,"n":479.02,"r":409.8,"et":1,"ge":0.9,"ne":2.1,"re":1.8},
      {"t":15,"g":100.95,"n":478.04,"r":408.0,"et":1,"ge":0.9,"ne":2.1,"re":1.8},
      {"t":17,"g":101.82,"n":481.7,"r":412.15,"et":1,"ge":0.9,"ne":2.1,"re":1.8},
      {"t":19,"g":101.31,"n":481.18,"r":408.1,"et":1,"ge":0.9,"ne":2.1,"re":1.8},
      {"t":21,"g":102.43,"n":473.2,"r":412.6,"et":1,"ge":0.9,"ne":2.1,"re":1.8},
      {"t":23,"g":102.43,"n":482.35,"r":411.1,"et":1,"ge":0.9,"ne":2.1,"re":1.8},
      {"t":25,"g":104.19,"n":481.18,"r":416.3,"et":1,"ge":0.9,"ne":2.1,"re":1.8},
      {"t":27,"g":101.89,"n":485.62,"r":416.6,"et":1,"ge":0.9,"ne":2.1,"re":1.8},
      {"t":29,"g":103.38,"n":483.53,"r":418.15,"et":1,"ge":0.9,"ne":2.1,"re":1.8},
      {"t":31,"g":104.62,"n":486.54,"r":425.3,"et":1,"ge":0.9,"ne":2.1,"re":1.8},
      {"t":33,"g":102.84,"n":484.64,"r":428.9,"et":1,"ge":0.9,"ne":2.1,"re":1.8},
      {"t":35,"g":102.03,"n":483.66,"r":429.7,"et":1,"ge":0.9,"ne":2.1,"re":1.8},
      {"t":37,"g":102.66,"n":479.74,"r":436.4,"et":1,"ge":0.9,"ne":2.1,"re":1.8},
      {"t":39,"g":103.74,"n":475.82,"r":434.0,"et":1,"ge":0.9,"ne":2.1,"re":1.8},
      {"t":41,"g":103.35,"n":473.66,"r":437.9,"et":1,"ge":0.9,"ne":2.1,"re":1.8},
      {"t":43,"g":103.67,"n":477.12,"r":430.8,"et":1,"ge":0.9,"ne":2.1,"re":1.8},
      {"t":45,"g":102.93,"n":478.04,"r":424.7,"et":1,"ge":0.9,"ne":2.1,"re":1.8},
      {"t":47,"g":101.44,"n":478.04,"r":423.5,"et":1,"ge":0.9,"ne":2.1,"re":1.8},
      {"t":49,"g":102.75,"n":476.93,"r":426.3,"et":1,"ge":0.9,"ne":2.1,"re":1.8},
      {"t":51,"g":102.09,"n":477.06,"r":413.0,"et":1,"ge":0.9,"ne":2.1,"re":1.8},
      {"t":53,"g":102.09,"n":480.33,"r":409.0,"et":1,"ge":0.9,"ne":2.1,"re":1.8},
      {"t":55,"g":102.93,"n":481.5,"r":412.15,"et":1,"ge":0.9,"ne":2.1,"re":1.8},
      {"t":57,"g":102.3,"n":478.3,"r":407.45,"et":1,"ge":0.9,"ne":2.1,"re":1.8},
      {"t":59,"g":103.69,"n":478.24,"r":415.6,"et":1,"ge":0.9,"ne":2.1,"re":1.8},
      {"t":61,"g":102.57,"n":480.65,"r":414.55,"et":1,"ge":0.9,"ne":2.1,"re":1.8},
      {"t":63,"g":102.9,"n":479.87,"r":410.4,"et":1,"ge":0.9,"ne":2.1,"re":1.8},
      {"t":65,"g":103.29,"n":483.01,"r":413.0,"et":1,"ge":0.9,"ne":2.1,"re":1.8},
      {"t":67,"g":100.95,"n":484.97,"r":412.6,"et":1,"ge":0.9,"ne":2.1,"re":1.8},
      {"t":69,"g":101.76,"n":477.58,"r":411.5,"et":1,"ge":0.9,"ne":2.1,"re":1.8},
      {"t":71,"g":102.48,"n":479.67,"r":412.8,"et":1,"ge":0.9,"ne":2.1,"re":1.8},
      {"t":73,"g":102.48,"n":480.07,"r":409.2,"et":1,"ge":0.9,"ne":2.1,"re":1.8},
      {"t":75,"g":103.35,"n":479.67,"r":414.55,"et":1,"ge":0.9,"ne":2.1,"re":1.8},
      {"t":77,"g":102.61,"n":480.85,"r":412.85,"et":1,"ge":0.9,"ne":2.1,"re":1.8},
      {"t":79,"g":102.93,"n":474.51,"r":411.5,"et":1,"ge":0.9,"ne":2.1,"re":1.8},
      {"t":81,"g":102.7,"n":480.33,"r":408.0,"et":1,"ge":0.9,"ne":2.1,"re":1.8},
      {"t":83,"g":101.71,"n":477.78,"r":411.0,"et":1,"ge":0.9,"ne":2.1,"re":1.8},
      {"t":85,"g":101.1,"n":479.67,"r":411.5,"et":1,"ge":0.9,"ne":2.1,"re":1.8},
      {"t":87,"g":101.53,"n":479.22,"r":411.3,"et":1,"ge":0.9,"ne":2.1,"re":1.8},
      {"t":89,"g":101.22,"n":476.8,"r":410.9,"et":1,"ge":0.9,"ne":2.1,"re":1.8},
      {"t":91,"g":105.22,"n":481.96,"r":415.4,"et":1,"ge":0.9,"ne":2.1,"re":1.8},
      {"t":93,"g":104.19,"n":487.71,"r":417.0,"et":1,"ge":0.9,"ne":2.1,"re":1.8},
      {"t":95,"g":105.0,"n":486.41,"r":423.7,"et":1,"ge":0.9,"ne":2.1,"re":1.8},
      {"t":97,"g":104.19,"n":485.23,"r":428.9,"et":1,"ge":0.9,"ne":2.1,"re":1.8},
      {"t":99,"g":106.8,"n":494.25,"r":431.4,"et":1,"ge":0.9,"ne":2.1,"re":1.8},
      {"t":101,"g":103.56,"n":492.29,"r":425.4,"et":1,"ge":0.9,"ne":2.1,"re":1.8},
      {"t":103,"g":102.66,"n":485.23,"r":427.7,"et":1,"ge":0.9,"ne":2.1,"re":1.8},
      {"t":105,"g":104.15,"n":487.19,"r":423.1,"et":1,"ge":0.9,"ne":2.1,"re":1.8},
      {"t":107,"g":102.66,"n":481.18,"r":414.9,"et":1,"ge":0.9,"ne":2.1,"re":1.8},
      {"t":109,"g":102.5,"n":483.01,"r":414.7,"et":1,"ge":0.9,"ne":2.1,"re":1.8},
      {"t":111,"g":101.94,"n":477.58,"r":410.9,"et":1,"ge":0.9,"ne":2.1,"re":1.8},
      {"t":113,"g":102.97,"n":480.85,"r":409.75,"et":1,"ge":0.9,"ne":2.1,"re":1.8},
      {"t":115,"g":103.51,"n":474.51,"r":409.75,"et":1,"ge":0.9,"ne":2.1,"re":1.8},
      {"t":117,"g":103.35,"n":477.06,"r":410.6,"et":1,"ge":0.9,"ne":2.1,"re":1.8},
      {"t":119,"g":100.81,"n":479.22,"r":408.3,"et":1,"ge":0.9,"ne":2.1,"re":1.8}
    ]
  },
  "vconcat": [
    {
      "width": 915,
      "height": 683,
      "layer": [
        {
          "data": {"name": "ch1"},
          "mark": {"type": "errorbar", "color": "#b94545", "opacity": 0.7, "thickness": 1.2, "ticks": {"size": 11, "thickness": 1.2}},
          "encoding": {
            "x": {"field": "t", "type": "quantitative", "scale": {"domain": [0, 120], "nice": false},
              "axis": {"orient": "bottom", "title": null, "values": [0,10,20,30,40,50,60,70,80,90,100,110,120],
                "labelExpr": "datum.value % 60 === 0 ? datum.label : ''", "labelFontSize": 27, "labelColor": "#111", "labelPadding": 13,
                "tickSize": 8, "tickColor": "#111", "tickWidth": 1.5,
                "grid": true, "gridColor": "#c4c4c4", "gridWidth": 1,
                "gridDash": {"condition": {"test": "datum.value === 60", "value": [1, 0]}, "value": [2, 3]}}},
            "y": {"field": "c", "type": "quantitative", "scale": {"domain": [380, 520], "nice": false, "zero": false},
              "axis": {"orient": "left", "values": [380,390,400,410,420,430,440,450,460,470,480,490,500,510,520],
                "labelExpr": "datum.value % 20 === 0 ? datum.label : ''",
                "domain": true, "domainColor": "#ff0000", "domainWidth": 2.5,
                "tickColor": "#ff0000", "tickSize": 12, "tickWidth": 1.5,
                "labelColor": "#ee1c1c", "labelFontSize": 27, "labelPadding": 8,
                "title": "CH1 10s aver (cts/s)", "titleColor": "#ee1c1c", "titleFontSize": 27, "titlePadding": 10}},
            "yError": {"field": "e"}
          }
        },
        {
          "data": {"name": "ch1"},
          "mark": {"type": "circle", "color": "#ff0000", "size": 20, "opacity": 1},
          "encoding": {
            "x": {"field": "t", "type": "quantitative", "scale": {"domain": [0, 120], "nice": false}, "axis": null},
            "y": {"field": "c", "type": "quantitative", "scale": {"domain": [380, 520], "nice": false, "zero": false}, "axis": null}
          }
        },
        {
          "data": {"name": "ef"},
          "mark": {"type": "line", "color": "#1f1fd0", "strokeWidth": 1.6},
          "encoding": {
            "x": {"field": "t", "type": "quantitative", "scale": {"domain": [0, 120], "nice": false},
              "axis": {"orient": "top", "title": null, "values": [0,10,20,30,40,50,60,70,80,90,100,110,120],
                "labels": false, "tickSize": -9, "tickColor": "#111", "tickWidth": 1.5, "grid": false}},
            "y": {"field": "E", "type": "quantitative", "scale": {"domain": [-400, 125.4], "nice": false, "zero": false},
              "axis": {"orient": "right", "values": [-400,-350,-300,-250,-200,-150,-100,-50,0,50,100],
                "labelExpr": "datum.value % 100 === 0 ? '' + datum.value : ''",
                "domain": true, "domainColor": "#1010ee", "domainWidth": 2.5,
                "tickColor": "#1010ee", "tickSize": 12, "tickWidth": 1.5,
                "labelColor": "#1a1ad0", "labelFontSize": 27, "labelPadding": 8,
                "grid": true, "gridColor": "#c8c8c8", "gridWidth": 1.2,
                "gridOpacity": {"condition": {"test": "datum.value % 100 === 0 && datum.value > -400", "value": 1}, "value": 0},
                "title": "E (kV/m)", "titleColor": "#1a1ad0", "titleFontSize": 27, "titleAngle": 270,
                "titleX": 76, "titleY": 128, "titleBaseline": "middle", "titleAlign": "center"}}
          }
        }
      ],
      "resolve": {"scale": {"y": "independent"}, "axis": {"x": "independent", "y": "independent"}}
    },
    {
      "bounds": "flush",
      "spacing": 41,
      "vconcat": [
        {
          "width": 925,
          "height": 165,
          "data": {"name": "b"},
          "layer": [
            {
              "mark": {"type": "errorbar", "color": "#55d455", "thickness": 1.5, "ticks": {"size": 12, "thickness": 1.5}},
              "encoding": {
                "x": {"field": "t", "type": "quantitative", "scale": {"domain": [0, 120], "nice": false},
                  "axis": {"orient": "top", "values": [0,2,4,6,8,10,12,14,16,18,20,22,24,26,28,30,32,34,36,38,40,42,44,46,48,50,52,54,56,58,60,62,64,66,68,70,72,74,76,78,80,82,84,86,88,90,92,94,96,98,100,102,104,106,108,110,112,114,116,118,120],
                    "labelExpr": "datum.value % 20 === 0 ? datum.label : ''", "labelFontSize": 25, "labelColor": "#222", "labelPadding": 25,
                    "tickSize": {"condition": {"test": "datum.value % 20 === 0", "value": -11}, "value": -6},
                    "tickColor": "#333", "tickWidth": 1.5,
                    "title": "Time min from 02:00 UT on July 3, 2016", "titleFontSize": 35, "titleColor": "#111", "titlePadding": 35}},
                "y": {"field": "g", "type": "quantitative", "scale": {"domain": [99, 108], "nice": false, "zero": false},
                  "axis": {"orient": "left", "values": [99,100,101,102,103,104,105,106,107,108],
                    "labelExpr": "datum.value % 5 === 0 ? datum.label : ''", "labelFontSize": 25, "labelColor": "#222", "labelPadding": 5,
                    "tickSize": {"condition": {"test": "datum.value % 5 === 0", "value": 12}, "value": 7},
                    "tickColor": "#333", "tickWidth": 1.5,
                    "title": "CH22MIN", "titleColor": "#2ec82e", "titleFontSize": 23, "titlePadding": 10}},
                "yError": {"field": "ge"}
              }
            },
            {
              "mark": {"type": "errorbar", "color": "#55d455", "thickness": 1.5, "ticks": {"size": 10, "thickness": 1.5}},
              "encoding": {
                "x": {"field": "t", "type": "quantitative", "scale": {"domain": [0, 120], "nice": false},
                  "axis": {"orient": "bottom", "title": null, "labels": false, "values": [0,2,4,6,8,10,12,14,16,18,20,22,24,26,28,30,32,34,36,38,40,42,44,46,48,50,52,54,56,58,60,62,64,66,68,70,72,74,76,78,80,82,84,86,88,90,92,94,96,98,100,102,104,106,108,110,112,114,116,118,120],
                    "tickSize": {"condition": {"test": "datum.value % 20 === 0", "value": 12}, "value": 7},
                    "tickColor": "#333", "tickWidth": 1.5}},
                "xError": {"field": "et"},
                "y": {"field": "g", "type": "quantitative", "scale": {"domain": [99, 108], "nice": false, "zero": false},
                  "axis": {"orient": "right", "title": null, "labels": false, "values": [99,100,101,102,103,104,105,106,107,108],
                    "tickSize": {"condition": {"test": "datum.value % 5 === 0", "value": -12}, "value": -7},
                    "tickColor": "#333", "tickWidth": 1.5}}
              }
            },
            {
              "mark": {"type": "circle", "color": "#00d000", "size": 14, "opacity": 1},
              "encoding": {
                "x": {"field": "t", "type": "quantitative", "axis": null},
                "y": {"field": "g", "type": "quantitative", "axis": null}
              }
            }
          ],
          "resolve": {"axis": {"x": "independent", "y": "independent"}}
        },
        {
          "width": 925,
          "height": 164,
          "data": {"name": "b"},
          "layer": [
            {
              "mark": {"type": "errorbar", "color": "#4646a8", "thickness": 1.5, "ticks": {"size": 12, "thickness": 1.5}},
              "encoding": {
                "x": {"field": "t", "type": "quantitative", "scale": {"domain": [0, 120], "nice": false},
                  "axis": {"orient": "top", "title": null, "labels": false, "values": [0,2,4,6,8,10,12,14,16,18,20,22,24,26,28,30,32,34,36,38,40,42,44,46,48,50,52,54,56,58,60,62,64,66,68,70,72,74,76,78,80,82,84,86,88,90,92,94,96,98,100,102,104,106,108,110,112,114,116,118,120],
                    "tickSize": {"condition": {"test": "datum.value % 20 === 0", "value": -11}, "value": -6},
                    "tickColor": "#333", "tickWidth": 1.5}},
                "y": {"field": "n", "type": "quantitative", "scale": {"domain": [468, 500], "nice": false, "zero": false},
                  "axis": {"orient": "left", "values": [468,470,472,474,476,478,480,482,484,486,488,490,492,494,496,498,500],
                    "labelExpr": "datum.value % 10 === 0 ? datum.label : ''", "labelFontSize": 25, "labelColor": "#222", "labelPadding": 5,
                    "tickSize": {"condition": {"test": "datum.value % 10 === 0", "value": 12}, "value": 7},
                    "tickColor": "#333", "tickWidth": 1.5,
                    "title": "NM2MIN", "titleColor": "#1a1ad0", "titleFontSize": 23, "titlePadding": 10}},
                "yError": {"field": "ne"}
              }
            },
            {
              "mark": {"type": "errorbar", "color": "#4646a8", "thickness": 1.5, "ticks": {"size": 10, "thickness": 1.5}},
              "encoding": {
                "x": {"field": "t", "type": "quantitative", "scale": {"domain": [0, 120], "nice": false},
                  "axis": {"orient": "bottom", "title": null, "labels": false, "values": [0,2,4,6,8,10,12,14,16,18,20,22,24,26,28,30,32,34,36,38,40,42,44,46,48,50,52,54,56,58,60,62,64,66,68,70,72,74,76,78,80,82,84,86,88,90,92,94,96,98,100,102,104,106,108,110,112,114,116,118,120],
                    "tickSize": {"condition": {"test": "datum.value % 20 === 0", "value": 12}, "value": 7},
                    "tickColor": "#333", "tickWidth": 1.5}},
                "xError": {"field": "et"},
                "y": {"field": "n", "type": "quantitative", "scale": {"domain": [468, 500], "nice": false, "zero": false},
                  "axis": {"orient": "right", "title": null, "labels": false, "values": [468,470,472,474,476,478,480,482,484,486,488,490,492,494,496,498,500],
                    "tickSize": {"condition": {"test": "datum.value % 10 === 0", "value": -12}, "value": -7},
                    "tickColor": "#333", "tickWidth": 1.5}}
              }
            },
            {
              "mark": {"type": "circle", "color": "#0000cc", "size": 14, "opacity": 1},
              "encoding": {
                "x": {"field": "t", "type": "quantitative", "axis": null},
                "y": {"field": "n", "type": "quantitative", "axis": null}
              }
            }
          ],
          "resolve": {"axis": {"x": "independent", "y": "independent"}}
        },
        {
          "width": 925,
          "height": 163,
          "data": {"name": "b"},
          "layer": [
            {
              "mark": {"type": "errorbar", "color": "#c24a4a", "thickness": 1.5, "ticks": {"size": 12, "thickness": 1.5}},
              "encoding": {
                "x": {"field": "t", "type": "quantitative", "scale": {"domain": [0, 120], "nice": false},
                  "axis": {"orient": "top", "title": null, "labels": false, "values": [0,2,4,6,8,10,12,14,16,18,20,22,24,26,28,30,32,34,36,38,40,42,44,46,48,50,52,54,56,58,60,62,64,66,68,70,72,74,76,78,80,82,84,86,88,90,92,94,96,98,100,102,104,106,108,110,112,114,116,118,120],
                    "tickSize": {"condition": {"test": "datum.value % 20 === 0", "value": -11}, "value": -6},
                    "tickColor": "#333", "tickWidth": 1.5}},
                "y": {"field": "r", "type": "quantitative", "scale": {"domain": [402.5, 444.8], "nice": false, "zero": false},
                  "axis": {"orient": "left", "values": [404,406,408,410,412,414,416,418,420,422,424,426,428,430,432,434,436,438,440,442,444],
                    "labelExpr": "datum.value % 10 === 0 ? datum.label : ''", "labelFontSize": 25, "labelColor": "#222", "labelPadding": 5,
                    "tickSize": {"condition": {"test": "datum.value % 10 === 0", "value": 12}, "value": 7},
                    "tickColor": "#333", "tickWidth": 1.5,
                    "title": "CH12MIN", "titleColor": "#ee1c1c", "titleFontSize": 23, "titlePadding": 10}},
                "yError": {"field": "re"}
              }
            },
            {
              "mark": {"type": "errorbar", "color": "#c24a4a", "thickness": 1.5, "ticks": {"size": 10, "thickness": 1.5}},
              "encoding": {
                "x": {"field": "t", "type": "quantitative", "scale": {"domain": [0, 120], "nice": false},
                  "axis": {"orient": "bottom", "title": null, "values": [0,2,4,6,8,10,12,14,16,18,20,22,24,26,28,30,32,34,36,38,40,42,44,46,48,50,52,54,56,58,60,62,64,66,68,70,72,74,76,78,80,82,84,86,88,90,92,94,96,98,100,102,104,106,108,110,112,114,116,118,120],
                    "labelExpr": "datum.value % 20 === 0 ? datum.label : ''", "labelFontSize": 25, "labelColor": "#222", "labelPadding": 4,
                    "tickSize": {"condition": {"test": "datum.value % 20 === 0", "value": 12}, "value": 7},
                    "tickColor": "#333", "tickWidth": 1.5}},
                "xError": {"field": "et"},
                "y": {"field": "r", "type": "quantitative", "scale": {"domain": [402.5, 444.8], "nice": false, "zero": false},
                  "axis": {"orient": "right", "title": null, "labels": false, "values": [404,406,408,410,412,414,416,418,420,422,424,426,428,430,432,434,436,438,440,442,444],
                    "tickSize": {"condition": {"test": "datum.value % 10 === 0", "value": -12}, "value": -7},
                    "tickColor": "#333", "tickWidth": 1.5}}
              }
            },
            {
              "mark": {"type": "circle", "color": "#ee0000", "size": 14, "opacity": 1},
              "encoding": {
                "x": {"field": "t", "type": "quantitative", "axis": null},
                "y": {"field": "r", "type": "quantitative", "axis": null}
              }
            }
          ],
          "resolve": {"axis": {"x": "independent", "y": "independent"}}
        }
      ]
    }
  ]
}
